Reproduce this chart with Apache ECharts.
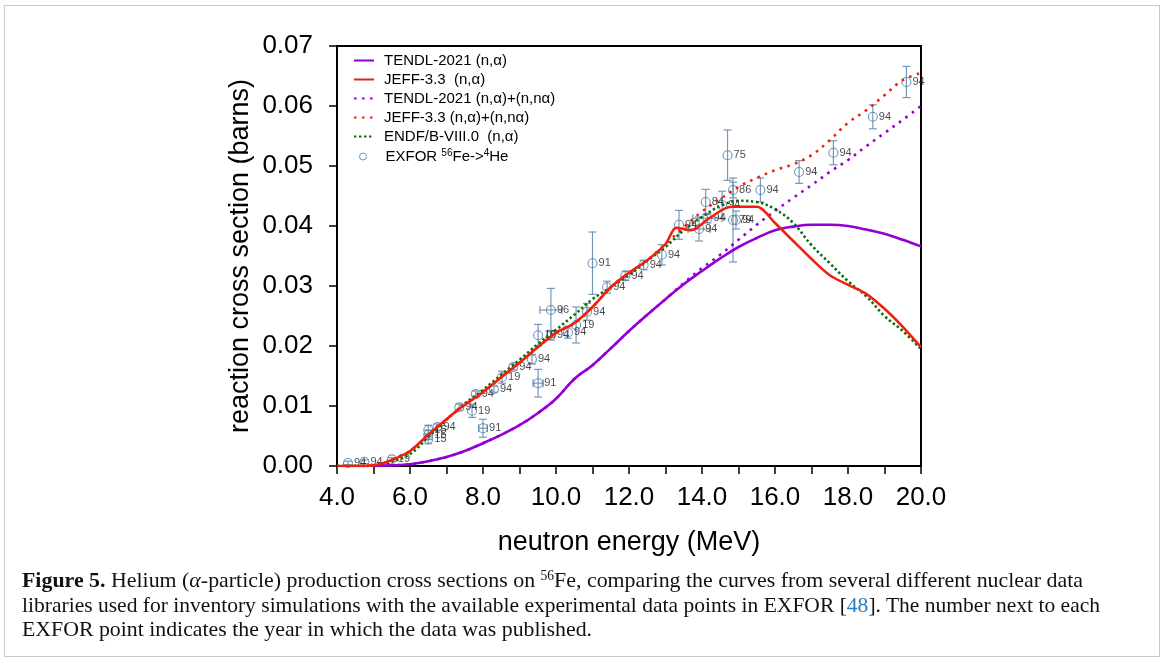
<!DOCTYPE html>
<html>
<head>
<meta charset="utf-8">
<script src="https://cdn.jsdelivr.net/npm/echarts@6/dist/echarts.min.js"></script>
<style>
  html, body { margin: 0; padding: 0; background: #fff; }
  #wrap { position: relative; width: 1169px; height: 666px; overflow: hidden; }
  #frame { position: absolute; left: 4px; top: 5px; width: 1156px; height: 652px; border: 1px solid #c9c9c9; box-sizing: border-box; }
  #chart { position: absolute; left: 0; top: 0; width: 1169px; height: 666px; }
  #caption { position: absolute; left: 22px; top: 568px; font-family: "Liberation Serif", "DejaVu Serif", serif; color: #111; white-space: nowrap; }
  #caption .ln { display: block; height: 24.5px; line-height: 24.5px; transform-origin: 0 50%; }
  #caption sup { font-size: 0.62em; vertical-align: 0.55em; line-height: 0; }
  #caption .ref { color: #2a7cc0; }
</style>
</head>
<body>
<div id="wrap">
  <div id="frame"></div>
  <div id="chart"></div>
  <div id="caption">
    <span class="ln" id="l1"><b>Figure 5.</b> Helium (<i>α</i>-particle) production cross sections on <sup>56</sup>Fe, comparing the curves from several different nuclear data</span>
    <span class="ln" id="l2">libraries used for inventory simulations with the available experimental data points in EXFOR [<span class="ref">48</span>]. The number next to each</span>
    <span class="ln" id="l3">EXFOR point indicates the year in which the data was published.</span>
  </div>
</div>
<script>
// ---------------- data ----------------
const xTicks = [4, 6, 8, 10, 12, 14, 16, 18, 20];
const yTicks = [0, 0.01, 0.02, 0.03, 0.04, 0.05, 0.06, 0.07];

// TENDL-2021 (n,alpha)
const tendlE = [5.0,5.5,6.0,6.5,7.0,7.5,8.0,8.5,9.0,9.5,10.0,10.5,11.0,11.5,12.0,12.5,13.0,13.5,14.0,14.5,15.0,15.5,16.0,16.5,17.0,17.5,18.0,18.5,19.0,19.5,20.0];
const tendlS = [0,0.0001,0.0003,0.0008,0.0015,0.0025,0.0038,0.0052,0.0068,0.0088,0.0112,0.0145,0.0168,0.0196,0.0225,0.0252,0.0278,0.0303,0.0325,0.0346,0.0365,0.0380,0.0393,0.0399,0.0402,0.0402,0.0400,0.0394,0.0387,0.0377,0.0366];

// TENDL-2021 (n,alpha)+(n,n alpha)
const tendlSumE = [5.0,5.5,6.0,6.5,7.0,7.5,8.0,8.5,9.0,9.5,10.0,10.5,11.0,11.5,12.0,12.5,13.0,13.5,14.0,14.5,15.0,15.5,16.0,16.5,17.0,17.5,18.0,18.5,19.0,19.5,20.0];
const tendlSumS = [0,0.0001,0.0003,0.0008,0.0015,0.0025,0.0038,0.0052,0.0068,0.0088,0.0112,0.0145,0.0168,0.0196,0.0225,0.0252,0.0278,0.0305,0.0330,0.0352,0.0377,0.0402,0.0425,0.0447,0.0468,0.0490,0.0510,0.0533,0.0555,0.0577,0.0600];

// JEFF-3.3 (n,alpha)
const jeffE = [4.0,4.5,5.0,5.5,6.0,6.5,7.0,7.5,8.0,8.5,9.0,9.5,10.0,10.5,11.0,11.5,12.0,12.5,13.0,13.3,13.7,14.2,14.8,15.5,16.0,16.5,17.0,17.5,18.0,18.5,19.0,19.5,20.0];
const jeffS = [0,0,0.0001,0.0010,0.0025,0.0052,0.0078,0.0102,0.0123,0.0148,0.0172,0.0198,0.0222,0.0238,0.0265,0.0298,0.0322,0.0343,0.0370,0.0397,0.0393,0.0413,0.0432,0.0432,0.0405,0.0375,0.0345,0.0318,0.0302,0.0287,0.0262,0.0232,0.0198];

// JEFF-3.3 (n,alpha)+(n,n alpha)
const jeffSumE = [4.0,4.5,5.0,5.5,6.0,6.5,7.0,7.5,8.0,8.5,9.0,9.5,10.0,10.5,11.0,11.5,12.0,12.5,13.0,13.5,14.0,14.5,15.0,15.5,16.0,16.5,17.0,17.5,18.0,18.5,19.0,19.5,20.0];
const jeffSumS = [0,0,0.0001,0.0010,0.0025,0.0052,0.0078,0.0102,0.0123,0.0148,0.0172,0.0198,0.0222,0.0238,0.0265,0.0298,0.0322,0.0343,0.0370,0.0398,0.0424,0.0445,0.0465,0.0480,0.0493,0.0503,0.0518,0.0543,0.0572,0.0593,0.0618,0.0643,0.0655];

// ENDF/B-VIII.0 (n,alpha)
const endfE = [4.0,4.5,5.0,5.5,6.0,6.5,7.0,7.5,8.0,8.5,9.0,9.5,10.0,10.5,11.0,11.5,12.0,12.5,13.0,13.5,14.0,14.5,15.0,15.5,16.0,16.5,17.0,17.5,18.0,18.5,19.0,19.5,20.0];
const endfS = [0,0,0,0.0007,0.0020,0.0048,0.0077,0.0104,0.0127,0.0152,0.0177,0.0203,0.0227,0.0252,0.0278,0.0298,0.0318,0.0342,0.0365,0.0393,0.0415,0.0433,0.0442,0.0440,0.0428,0.0405,0.0368,0.0338,0.0308,0.0283,0.0250,0.0225,0.0195];

// EXFOR 56Fe -> 4He experimental points
const exforE    = [4.3,4.75,5.5,6.5,6.5,6.5,6.75,7.35,7.7,8.0,7.8,8.3,8.52,8.83,9.34,9.51,9.51,9.86,9.86,10.33,10.55,10.85,11.0,11.4,11.9,12.4,12.9,13.37,13.92,14.1,14.15,14.55,14.7,14.85,14.85,14.93,15.6,16.66,17.6,18.68,19.6];
const exforS    = [0.0005,0.0007,0.0011,0.0060,0.0052,0.0045,0.0065,0.0098,0.0092,0.0063,0.0120,0.0128,0.0148,0.0165,0.0178,0.0138,0.0218,0.0260,0.0218,0.0223,0.0235,0.0257,0.0338,0.0298,0.0317,0.0335,0.0352,0.0402,0.0395,0.0440,0.0413,0.0435,0.0518,0.0460,0.0410,0.0410,0.0460,0.0490,0.0522,0.0582,0.0640];
const exforErr  = [0.0003,0.0003,0.0003,0.0008,0.0008,0.0008,0.0005,0.0005,0.0011,0.0015,0.0005,0.0005,0.0010,0.0005,0.0008,0.0023,0.0018,0.0036,0.0008,0.0010,0.0030,0.0014,0.0052,0.0010,0.0008,0.0008,0.0017,0.0024,0.0020,0.0021,0.0008,0.0023,0.0042,0.0013,0.0070,0.0015,0.0020,0.0019,0.0020,0.0020,0.0026];
const exforXErr = [0,0,0,0,0,0,0,0,0,0.12,0,0,0,0,0,0.14,0,0.30,0,0,0,0,0,0,0,0,0,0,0.30,0,0.40,0,0,0,0,0,0,0,0,0,0];
const exforYear = ["94","94","19","15","15","15","94","94","19","91","94","94","19","94","94","91","19","96","94","94","19","94","91","94","94","94","94","94","94","84","94","94","75","86","79","94","94","94","94","94","94"];

// ---------------- build ----------------
const zip = (a, b) => a.map((v, i) => [v, b[i]]);
const exforData = exforE.map((e, i) => [e, exforS[i], exforErr[i], exforXErr[i]]);

const PURPLE = '#9400d3';
const RED = '#f0200c';
const GREEN = '#0b6b12';
const EXF = '#4a7cab';
const EXF_BAR = '#7698b8';
const FONT = '"Liberation Sans", Arial, sans-serif';

const chart = echarts.init(document.getElementById('chart'), null, { renderer: 'canvas' });

const richText = {
  sp: { width: 5 },
  sp2: { width: 14 },
  t: { fontFamily: FONT, fontSize: 15, color: '#000' },
  s: { fontFamily: FONT, fontSize: 10, color: '#000', verticalAlign: 'top', padding: [0, 0, 7, 0] }
};

const option = {
  animation: false,
  backgroundColor: 'transparent',
  grid: { left: 337, top: 46, right: 248, bottom: 200, show: true, borderColor: '#000', borderWidth: 2, backgroundColor: 'transparent' },
  legend: [
    {
      orient: 'vertical', left: 353, top: 53, padding: 0, itemGap: 4, itemWidth: 20, itemHeight: 16,
      itemStyle: { opacity: 0 },
      textStyle: { fontFamily: FONT, fontSize: 15, color: '#000', rich: richText },
      data: ['TENDL-2021 (n,α)', 'JEFF-3.3  (n,α)', 'TENDL-2021 (n,α)+(n,nα)', 'JEFF-3.3 (n,α)+(n,nα)', 'ENDF/B-VIII.0  (n,α)'],
      formatter: (name) => '{sp|}' + name
    },
    {
      orient: 'vertical', left: 359, top: 148, padding: 0, itemGap: 3, itemWidth: 7, itemHeight: 7,
      textStyle: { fontFamily: FONT, fontSize: 15, color: '#000', rich: richText },
      data: [{ name: 'EXFOR', icon: 'circle', itemStyle: { color: 'rgba(255,255,255,0)', borderColor: EXF, borderWidth: 1 } }],
      formatter: () => '{sp2|}{t|EXFOR }{s|56}{t|Fe->}{s|4}{t|He}'
    }
  ],
  xAxis: {
    type: 'value', min: 4, max: 20, interval: 1,
    name: 'neutron energy (MeV)', nameLocation: 'middle', nameGap: 63,
    nameTextStyle: { fontFamily: FONT, fontSize: 27, color: '#000' },
    axisLine: { show: true, lineStyle: { color: '#000', width: 2 } },
    axisTick: { show: true, inside: false, length: 8, lineStyle: { color: '#000', width: 1.5 } },
    axisLabel: { margin: 19, fontFamily: FONT, fontSize: 26, color: '#000',
      formatter: (v) => (xTicks.indexOf(Math.round(v)) >= 0 && Math.abs(v - Math.round(v)) < 1e-6) ? v.toFixed(1) : '' },
    splitLine: { show: false }
  },
  yAxis: {
    type: 'value', min: 0, max: 0.07, interval: 0.01,
    name: 'reaction cross section (barns)', nameLocation: 'middle', nameGap: 83, nameRotate: 90,
    nameTextStyle: { fontFamily: FONT, fontSize: 27, color: '#000' },
    axisLine: { show: true, lineStyle: { color: '#000', width: 2 } },
    axisTick: { show: true, inside: false, length: 8, lineStyle: { color: '#000', width: 1.5 } },
    axisLabel: { margin: 24, fontFamily: FONT, fontSize: 26, color: '#000',
      formatter: (v) => { const k = yTicks.findIndex(t => Math.abs(t - v) < 1e-9); return k >= 0 ? yTicks[k].toFixed(2) : ''; } },
    splitLine: { show: false }
  },
  series: [
    {
      name: 'exfor-errors', type: 'custom', z: 1, silent: true,
      data: exforData,
      encode: { x: 0, y: 1 },
      renderItem: (params, api) => {
        const x = api.value(0), y = api.value(1), e = api.value(2), xe = api.value(3);
        const top = api.coord([x, y + e]);
        const bot = api.coord([x, y - e]);
        const cap = 4;
        const st = { stroke: EXF_BAR, lineWidth: 1.2 };
        const kids = [
          { type: 'line', shape: { x1: top[0], y1: top[1], x2: bot[0], y2: bot[1] }, style: st },
          { type: 'line', shape: { x1: top[0] - cap, y1: top[1], x2: top[0] + cap, y2: top[1] }, style: st },
          { type: 'line', shape: { x1: bot[0] - cap, y1: bot[1], x2: bot[0] + cap, y2: bot[1] }, style: st }
        ];
        if (xe > 0) {
          const l = api.coord([x - xe, y]);
          const r = api.coord([x + xe, y]);
          kids.push({ type: 'line', shape: { x1: l[0], y1: l[1], x2: r[0], y2: r[1] }, style: st });
          kids.push({ type: 'line', shape: { x1: l[0], y1: l[1] - cap, x2: l[0], y2: l[1] + cap }, style: st });
          kids.push({ type: 'line', shape: { x1: r[0], y1: r[1] - cap, x2: r[0], y2: r[1] + cap }, style: st });
        }
        return { type: 'group', children: kids };
      }
    },
    {
      name: 'EXFOR', type: 'scatter', z: 2,
      data: exforData,
      encode: { x: 0, y: 1 },
      symbol: 'circle', symbolSize: 9,
      itemStyle: { color: 'rgba(255,255,255,0)', borderColor: EXF, borderWidth: 1.1 },
      label: { show: true, position: 'right', distance: 1, fontFamily: FONT, fontSize: 11, color: '#1a1a1a',
        formatter: (p) => exforYear[p.dataIndex] },
      emphasis: { disabled: true }
    },
    {
      name: 'TENDL-2021 (n,α)+(n,nα)', type: 'line', z: 3, data: zip(tendlSumE, tendlSumS),
      showSymbol: false, symbol: 'none', smooth: 0.4,
      lineStyle: { color: PURPLE, width: 2.6, type: [2.6, 5.4] }, itemStyle: { color: PURPLE }
    },
    {
      name: 'JEFF-3.3 (n,α)+(n,nα)', type: 'line', z: 3, data: zip(jeffSumE, jeffSumS),
      showSymbol: false, symbol: 'none', smooth: 0.4,
      lineStyle: { color: RED, width: 2.6, type: [2.6, 5.4] }, itemStyle: { color: RED }
    },
    {
      name: 'ENDF/B-VIII.0  (n,α)', type: 'line', z: 4, data: zip(endfE, endfS),
      showSymbol: false, symbol: 'none', smooth: 0.4,
      lineStyle: { color: GREEN, width: 2.6, type: [2.4, 2.6] }, itemStyle: { color: GREEN }
    },
    {
      name: 'TENDL-2021 (n,α)', type: 'line', z: 5, data: zip(tendlE, tendlS),
      showSymbol: false, symbol: 'none', smooth: 0.4,
      lineStyle: { color: PURPLE, width: 2.6 }, itemStyle: { color: PURPLE }
    },
    {
      name: 'JEFF-3.3  (n,α)', type: 'line', z: 5, data: zip(jeffE, jeffS),
      showSymbol: false, symbol: 'none', smooth: 0.3,
      lineStyle: { color: RED, width: 2.6 }, itemStyle: { color: RED }
    }
  ]
};
chart.setOption(option);

// fit caption lines to the reference line widths
(function () {
  const cap = document.getElementById('caption');
  const ids = ['l1', 'l2', 'l3'];
  const targets = [1061, 1078, 570];
  cap.style.fontSize = '18px';
  const widths = ids.map(id => { const el = document.getElementById(id); el.style.display = 'inline-block'; return el.getBoundingClientRect().width; });
  const fs = 18 * targets[0] / widths[0];
  cap.style.fontSize = fs.toFixed(2) + 'px';
  ids.forEach((id, i) => {
    const el = document.getElementById(id);
    const w = el.getBoundingClientRect().width;
    el.style.transform = 'scaleX(' + (targets[i] / w).toFixed(4) + ')';
    el.style.display = 'block';
    el.style.width = 'max-content';
  });
})();
</script>
</body>
</html>
